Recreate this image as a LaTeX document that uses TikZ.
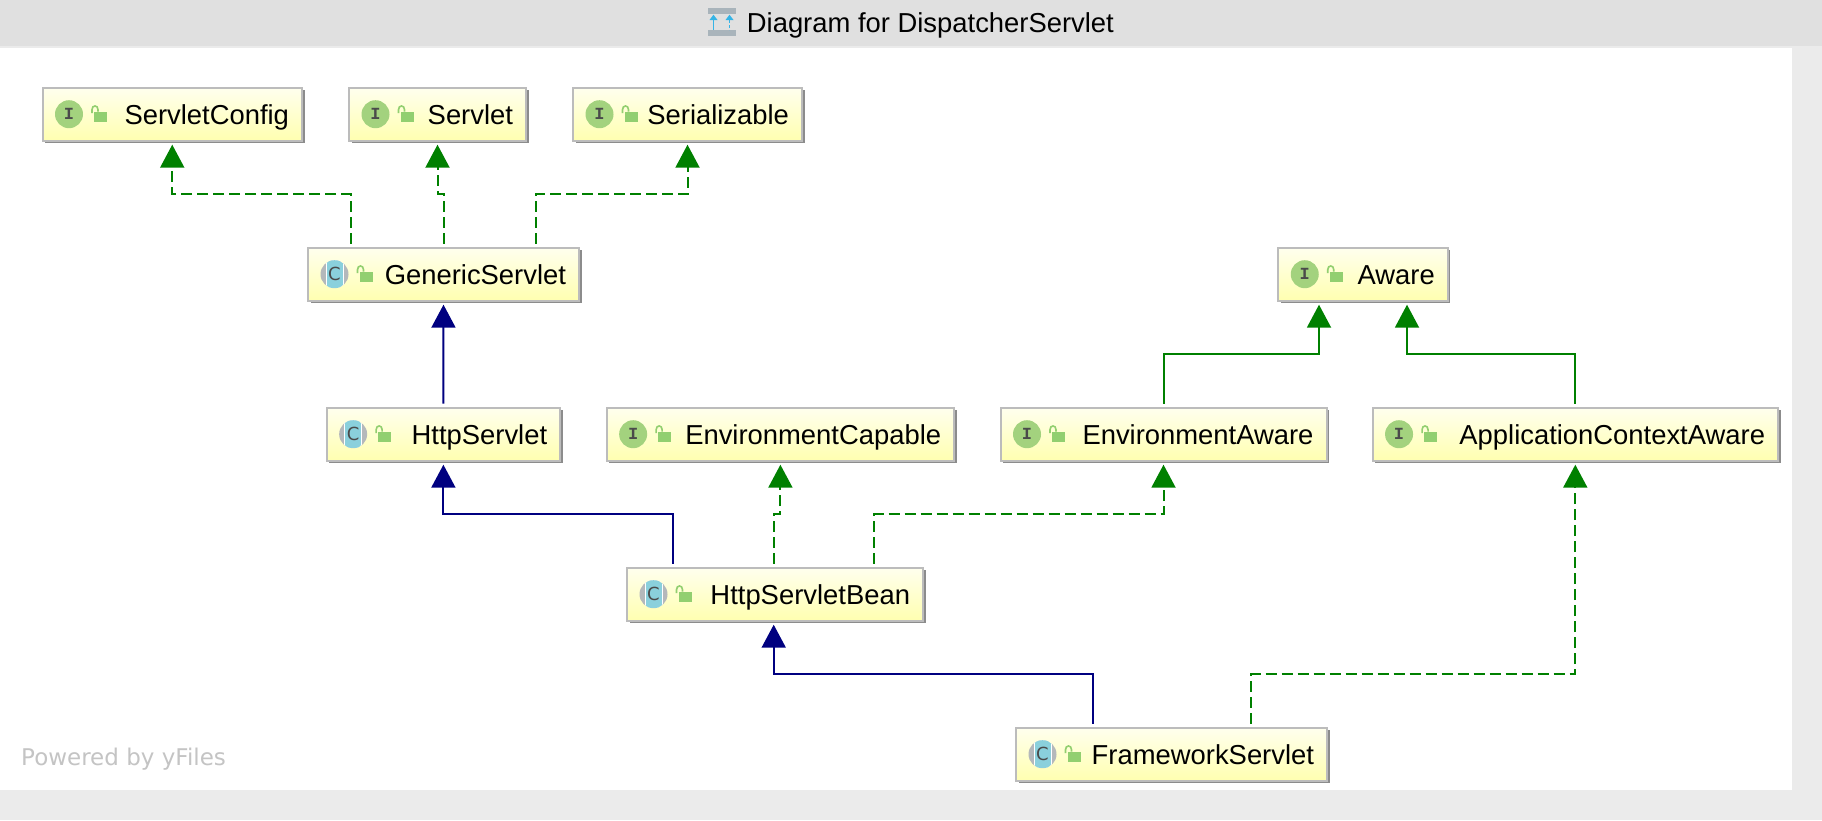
\documentclass[tikz,border=0pt]{standalone}
\usepackage{fontspec}
\setmainfont{Liberation Sans}
\newfontfamily\iconfont{Liberation Mono}
\newfontfamily\yfilesfont{DejaVu Sans}
\usetikzlibrary{positioning,arrows.meta,shadows}
\definecolor{titlegray}{HTML}{E0E0E0}
\definecolor{edgegray}{HTML}{EBEBEB}
\definecolor{boxborder}{HTML}{BCBCBC}
\definecolor{boxshadow}{HTML}{8C8C8C}
\definecolor{boxtop}{HTML}{FFFFEE}
\definecolor{boxbottom}{HTML}{FFFFB0}
\definecolor{ifacegreen}{HTML}{A3D27E}
\definecolor{lockgreen}{HTML}{92CF70}
\definecolor{classgray}{HTML}{B4B8BB}
\definecolor{classteal}{HTML}{8AD0DC}
\definecolor{letterdark}{HTML}{4A4A4A}
\definecolor{implgreen}{HTML}{008000}
\definecolor{extblue}{HTML}{000080}
\definecolor{iconblue}{HTML}{35B4E6}
\definecolor{iconbar}{HTML}{A9B4BB}
\definecolor{poweredgray}{HTML}{C4C4C4}
\tikzset{
    umlbox/.style={draw=boxborder, line width=2pt, top color=boxtop, bottom color=boxbottom,
        general shadow={fill=boxshadow, shadow xshift=2.7pt, shadow yshift=-2.7pt},
        text=black, font=\fontsize{27.4}{30}\selectfont, align=right, minimum height=53pt,
        inner xsep=13pt, inner ysep=0pt, outer sep=4pt, text height=26pt, text depth=6pt},
    boxwidth/.style={text width=#1pt-28pt},
    implline/.style={draw=implgreen, line width=2pt, dash pattern=on 11pt off 5pt,
        -{Triangle[length=23pt,width=24pt,fill=implgreen]}},
    implsolid/.style={draw=implgreen, line width=2pt,
        -{Triangle[length=23pt,width=24pt,fill=implgreen]}},
    extline/.style={draw=extblue, line width=2pt,
        -{Triangle[length=23pt,width=24pt,fill=extblue]}},
    iconletter/.style={text=letterdark, inner sep=0pt}
}
% open lock beside the round icon
\newcommand{\lockicon}[1]{
    \begin{scope}[shift={(#1.west)}]
        \fill[lockgreen] (55.8,-2.5) rectangle (68.8,7.5);
        \draw[lockgreen, line width=1.6pt] (53.5,-1) -- (53.5,-4.5) .. controls (53.5,-9.5) and (59.5,-9.5) .. (59.5,-4.5) -- (59.5,-2.5);
    \end{scope}
}
\newcommand{\ifaceicon}[1]{
    \begin{scope}[shift={(#1.west)}]
        \fill[ifacegreen] (30.5,0) circle (14pt);
        \node[iconletter, font=\iconfont\bfseries\fontsize{17}{17}\selectfont] (#1letter) at (30.5,0) {I};
    \end{scope}
    \lockicon{#1}
}
\newcommand{\classicon}[1]{
    \begin{scope}[shift={(#1.west)}]
        \fill[classgray] (30.5,0) circle (14pt);
        \begin{scope}
            \clip (30.5,0) circle (14pt);
            \fill[white] (21.5,-14) rectangle (39.5,14);
            \fill[classteal] (22.5,-14) rectangle (38.5,14);
        \end{scope}
        \node[iconletter, font=\yfilesfont\fontsize{18}{18}\selectfont] (#1letter) at (30.5,0) {C};
    \end{scope}
    \lockicon{#1}
}

\begin{document}
\begin{tikzpicture}[x=1pt,y=-1pt]
    \useasboundingbox (0,0) rectangle (1822,820);
    \fill[edgegray] (0,0) rectangle (1822,820);
    \fill[white] (0,48) rectangle (1792,790);
    \fill[titlegray] (0,0) rectangle (1822,46);

    % title bar
    \fill[iconbar] (708.3,8) rectangle (736,14);
    \fill[iconbar] (708.3,30) rectangle (736,35.7);
    \fill[iconblue] (713.5,14.7) -- (717.5,20) -- (709.5,20) -- cycle;
    \draw[iconblue, line width=1.8pt] (713.5,19) -- (713.5,30);
    \fill[iconblue] (729.5,14.7) -- (733.5,20) -- (725.5,20) -- cycle;
    \draw[iconblue, line width=1.8pt, dash pattern=on 3pt off 2pt] (729.5,20) -- (729.5,30);
    \node[anchor=base west, inner sep=0pt, font=\fontsize{27.4}{30}\selectfont] (title) at (746.7,32) {Diagram for DispatcherServlet};

    \node[anchor=base west, inner sep=0pt, text=poweredgray, font=\yfilesfont\fontsize{23}{26}\selectfont] (powered) at (21,765) {Powered by yFiles};

    \node[umlbox, boxwidth=261.5] (ServletConfig) at (172.25,114.2) {ServletConfig};
    \node[umlbox, boxwidth=179] (Servlet) at (437.5,114.2) {Servlet};
    \node[umlbox, boxwidth=231] (Serializable) at (687.5,114.2) {Serializable};
    \node[umlbox, boxwidth=273] (GenericServlet) at (443.5,274.2) {GenericServlet};
    \node[umlbox, boxwidth=171.5] (Aware) at (1363,274.2) {Aware};
    \node[umlbox, boxwidth=235.5] (HttpServlet) at (443.4,434.2) {HttpServlet};
    \node[umlbox, boxwidth=349.5] (EnvironmentCapable) at (780.4,434.2) {EnvironmentCapable};
    \node[umlbox, boxwidth=328] (EnvironmentAware) at (1163.5,434.2) {EnvironmentAware};
    \node[umlbox, boxwidth=407.5] (ApplicationContextAware) at (1575.3,434.2) {ApplicationContextAware};
    \node[umlbox, boxwidth=298] (HttpServletBean) at (775,594.2) {HttpServletBean};
    \node[umlbox, boxwidth=313] (FrameworkServlet) at (1171.5,754.2) {FrameworkServlet};

    \foreach \boxname in {ServletConfig,Servlet,Serializable,Aware,EnvironmentCapable,EnvironmentAware,ApplicationContextAware} {
        \ifaceicon{\boxname}
    }
    \foreach \boxname in {GenericServlet,HttpServlet,HttpServletBean,FrameworkServlet} {
        \classicon{\boxname}
    }

    \draw[implline] ([xshift=-92.8pt]GenericServlet.north) -- ++(0,-49.4) -| (ServletConfig.south);
    \draw[implline] (GenericServlet.north) -- ++(0,-49.4) -| (Servlet.south);
    \draw[implline] ([xshift=92pt]GenericServlet.north) -- ++(0,-49.4) -| (Serializable.south);
    \draw[extline] (HttpServlet.north) -- (GenericServlet.south);
    \draw[implsolid] (EnvironmentAware.north) -- ++(0,-49.4) -| ([xshift=-44pt]Aware.south);
    \draw[implsolid] (ApplicationContextAware.north) -- ++(0,-49.4) -| ([xshift=44pt]Aware.south);
    \draw[extline] ([xshift=-101.7pt]HttpServletBean.north) -- ++(0,-49.4) -| (HttpServlet.south);
    \draw[implline] ([xshift=-1pt]HttpServletBean.north) -- ++(0,-49.4) -| (EnvironmentCapable.south);
    \draw[implline] ([xshift=99pt]HttpServletBean.north) -- ++(0,-49.4) -| (EnvironmentAware.south);
    \draw[extline] ([xshift=-79pt]FrameworkServlet.north) -- ++(0,-49.4) -| ([xshift=-1.3pt]HttpServletBean.south);
    \draw[implline] ([xshift=79.5pt]FrameworkServlet.north) -- ++(0,-49.4) -| (ApplicationContextAware.south);
\end{tikzpicture}
\end{document}
